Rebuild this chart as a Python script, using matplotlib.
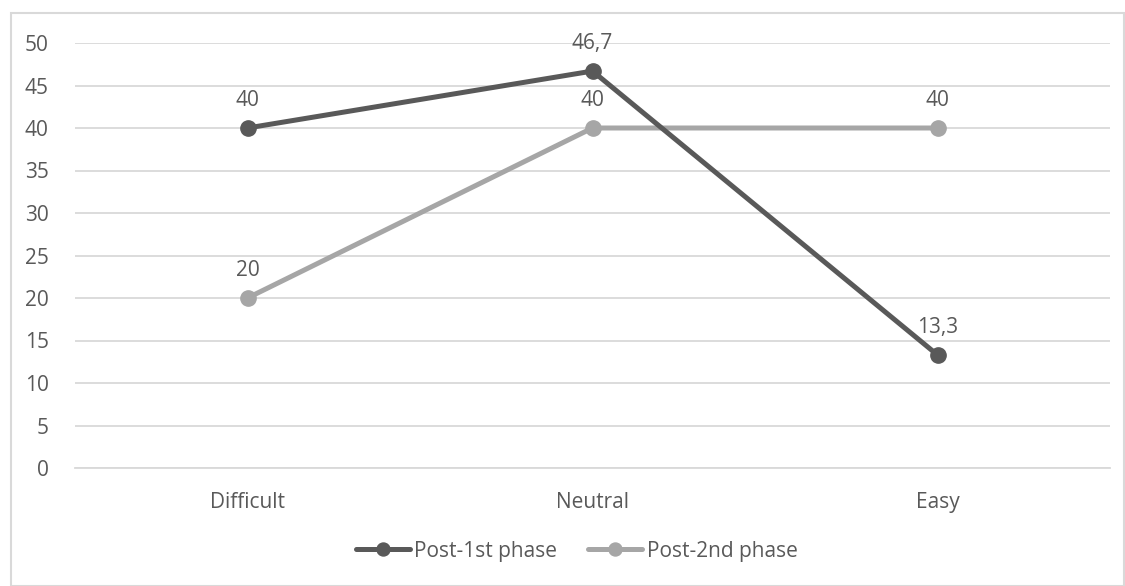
import matplotlib.pyplot as plt
from matplotlib.patches import Rectangle

categories = ['Difficult', 'Neutral', 'Easy']
post_1st = [40, 46.7, 13.3]
post_2nd = [20, 40, 40]
series_names = ['Post-1st phase', 'Post-2nd phase']

plt.rcParams['font.family'] = ['Open Sans', 'DejaVu Sans']
text_color = '#595959'
grid_color = '#d9d9d9'
fsize = 15

fig = plt.figure(figsize=(11.25, 5.86), dpi=100)
ax = fig.add_axes([75 / 1125, 1 - 468 / 586, 1035 / 1125, 425 / 586])

x = list(range(len(categories)))
ax.plot(x, post_1st, color='#595959', lw=3.6, marker='o', ms=11,
        solid_capstyle='round', label=series_names[0], zorder=4)
ax.plot(x, post_2nd, color='#a6a6a6', lw=3.6, marker='o', ms=11,
        solid_capstyle='round', label=series_names[1], zorder=3)

def fmt(v):
    return ('%g' % v).replace('.', ',')

for series in (post_1st, post_2nd):
    for xi, v in zip(x, series):
        ax.annotate(fmt(v), (xi, v), xytext=(0, 20), textcoords='offset points',
                    ha='center', va='center', fontsize=fsize, color=text_color)

ax.set_xlim(-0.5, 2.5)
ax.set_ylim(0, 50)
ax.set_yticks(range(0, 51, 5))
ax.set_xticks(x)
ax.set_xticklabels(categories)
ax.yaxis.grid(True, color=grid_color, lw=1.3)
ax.set_axisbelow(True)
for s in ax.spines.values():
    s.set_visible(False)
ax.spines['bottom'].set_visible(True)
ax.spines['bottom'].set_color(grid_color)
ax.spines['bottom'].set_linewidth(1.3)
ax.tick_params(length=0, labelsize=fsize, colors=text_color)
ax.tick_params(axis='x', pad=17)
ax.tick_params(axis='y', pad=19)

leg = fig.legend(loc='center', bbox_to_anchor=(0.5 + 14 / 1125, 1 - 551 / 586), ncol=2,
                 frameon=False, fontsize=fsize, handlelength=2.6,
                 columnspacing=1.5, handletextpad=0.2, markerscale=0.85)
for t in leg.get_texts():
    t.set_color(text_color)

fig.patches.append(Rectangle((11 / 1125, 0), 1 - 11 / 1125 - 0.0005, 1 - 13 / 586,
                             transform=fig.transFigure, fill=False,
                             edgecolor=grid_color, lw=1.5))

fig.savefig('out.png', dpi=100, facecolor='white')
